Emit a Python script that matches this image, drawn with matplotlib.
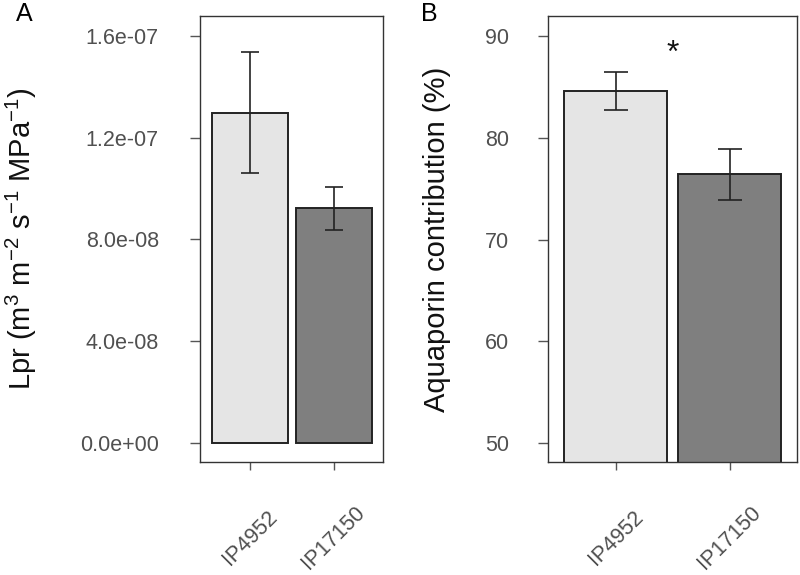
import matplotlib
matplotlib.use('Agg')
import matplotlib.pyplot as plt
import matplotlib.transforms as mtransforms

plt.rcParams['font.family'] = ['Liberation Sans', 'DejaVu Sans']
plt.rcParams['mathtext.fontset'] = 'custom'
plt.rcParams['mathtext.rm'] = 'Liberation Sans'
plt.rcParams['mathtext.it'] = 'Liberation Sans:italic'

# data
genotypes = ['IP4952', 'IP17150']
lpr_mean = [1.298e-07, 9.22e-08]
lpr_se = [2.37e-08, 0.85e-08]
aqp_mean = [84.6, 76.4]
aqp_se = [1.9, 2.5]

lpr_ticks = [0.0, 4.0e-08, 8.0e-08, 1.2e-07, 1.6e-07]
lpr_ticklabels = ['0.0e+00', '4.0e-08', '8.0e-08', '1.2e-07', '1.6e-07']
aqp_ticks = [50, 60, 70, 80, 90]

bar_colors = ['#e5e5e5', '#7f7f7f']
bar_x = [0.6, 1.7]

fig = plt.figure(figsize=(8, 5.75), dpi=100)
axA = fig.add_axes([0.2506, 0.1965, 0.2281, 0.7757])
axB = fig.add_axes([0.6854, 0.1965, 0.3109, 0.7757])


def style_axis(ax, ylim, ticks, ticklabels, ylabel, label_x, pad, capsize, means, ses):
    ax.bar(bar_x, means, width=1.0, color=bar_colors, edgecolor='#222222',
           linewidth=1.4, zorder=2)
    ax.errorbar(bar_x, means, yerr=ses, fmt='none', ecolor='#222222',
                elinewidth=1.2, capsize=capsize, capthick=1.2, zorder=3)
    ax.set_xlim(-0.05, 2.35)
    ax.set_ylim(*ylim)
    ax.set_yticks(ticks)
    ax.set_yticklabels(ticklabels)
    ax.set_xticks(bar_x)
    ax.set_xticklabels([])
    ax.tick_params(axis='y', length=7, width=1, color='#555555', pad=pad,
                   labelsize=15.5, labelcolor='#505050')
    ax.tick_params(axis='x', length=6, width=1, color='#555555')
    for sp in ax.spines.values():
        sp.set_color('#333333')
        sp.set_linewidth(1.0)
    ax.set_ylabel(ylabel, fontsize=21, color='#111111')
    ax.yaxis.set_label_coords(label_x, 0.5)
    trans = mtransforms.blended_transform_factory(ax.transData, ax.transAxes)
    for x, lab in zip(bar_x, genotypes):
        ax.text(x, -0.17, lab, rotation=45, ha='center', va='center',
                fontsize=15.5, color='#505050', transform=trans)


style_axis(axA, (-0.745e-08, 1.678e-07), lpr_ticks, lpr_ticklabels,
           r'Lpr (m$^{3}$ m$^{-2}$ s$^{-1}$ MPa$^{-1}$)', -0.885, 23, 6.5,
           lpr_mean, lpr_se)
style_axis(axB, (48.14, 91.96), aqp_ticks, [str(t) for t in aqp_ticks],
           'Aquaporin contribution (%)', -0.39, 21.5, 8.3,
           aqp_mean, aqp_se)

# significance mark
axB.text((bar_x[0] + bar_x[1]) / 2, 88.2, '*', ha='center', va='center',
         fontsize=23, color='#111111')

fig.text(24 / 800, 1 - 14 / 575, 'A', fontsize=18, ha='center', va='center')
fig.text(429 / 800, 1 - 14 / 575, 'B', fontsize=18, ha='center', va='center')

fig.savefig('out.png', dpi=100)
